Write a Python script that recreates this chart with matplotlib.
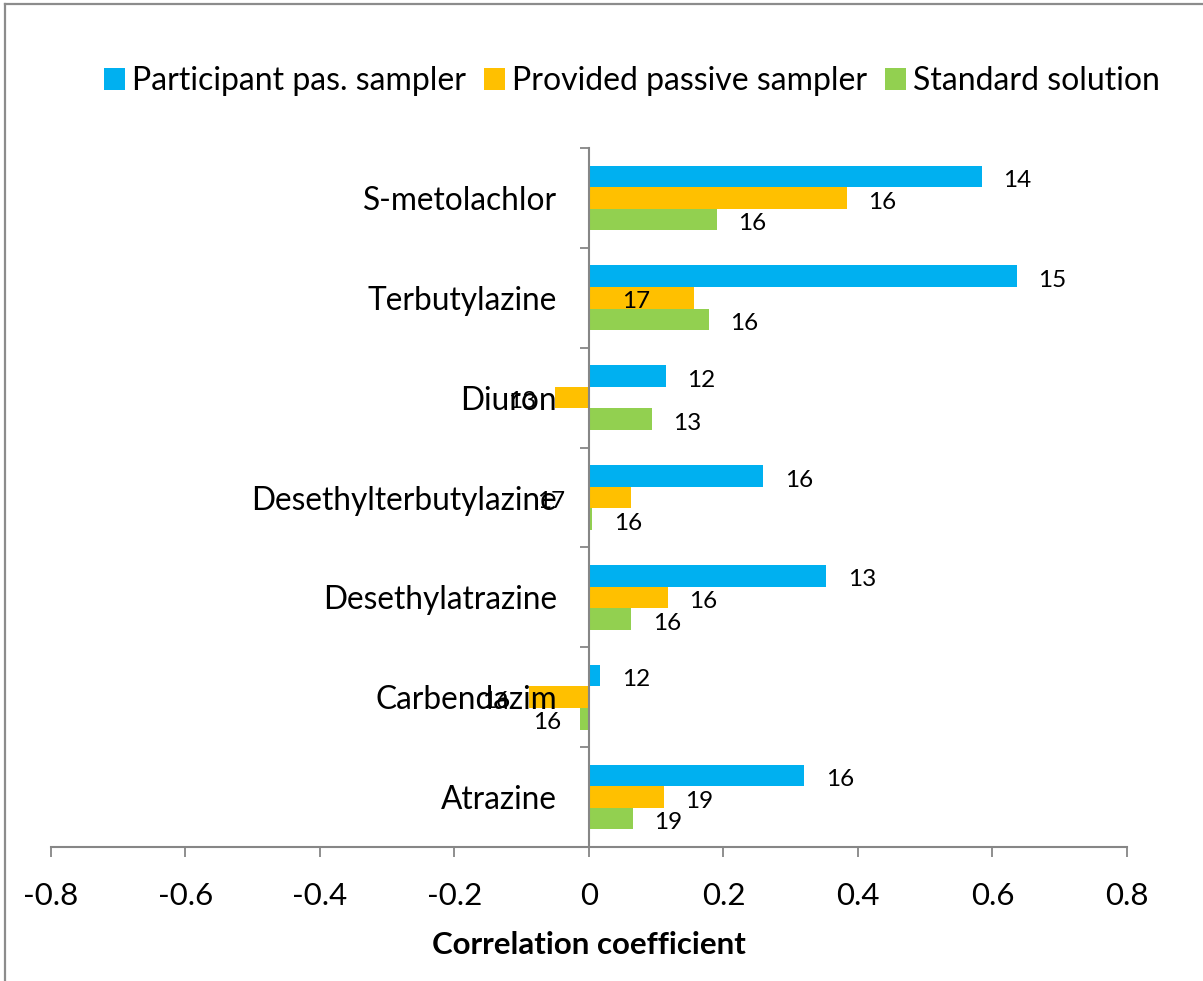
import matplotlib
matplotlib.use('Agg')
from matplotlib import pyplot as plt
from matplotlib.lines import Line2D
import numpy as np

plt.rcParams['font.family'] = ['Lato', 'DejaVu Sans']

# compounds, bottom to top
compounds = ['Atrazine', 'Carbendazim', 'Desethylatrazine', 'Desethylterbutylazine',
             'Diuron', 'Terbutylazine', 'S-metolachlor']
series = ['Participant pas. sampler', 'Provided passive sampler', 'Standard solution']

participant = [0.320, 0.017, 0.353, 0.259, 0.114, 0.636, 0.584]
provided = [0.111, -0.089, 0.117, 0.0625, -0.050, 0.156, 0.383]
standard = [0.065, -0.013, 0.0625, 0.005, 0.093, 0.178, 0.190]

# number of samples written beside each bar
n_participant = [16, 12, 13, 16, 12, 15, 14]
n_provided = [19, 16, 16, 17, 13, 17, 16]
n_standard = [19, 16, 16, 16, 13, 16, 16]

colors = ['#00B0F0', '#FFC000', '#92D050']
grey = '#868686'

fig = plt.figure(figsize=(12.03, 9.81), dpi=100)
ax = fig.add_axes([51 / 1203, 1 - 847 / 981, 1076 / 1203, 699 / 981])

# frame of the chart area (top and left edges)
fig.add_artist(Line2D([4.5 / 1203, 4.5 / 1203], [0, 1 - 4 / 981], transform=fig.transFigure,
                      color='#8c8c8c', lw=1.6))
fig.add_artist(Line2D([4.5 / 1203, 1], [1 - 4 / 981, 1 - 4 / 981], transform=fig.transFigure,
                      color='#8c8c8c', lw=1.6))

y = np.arange(len(compounds))
h = 0.216
values = [participant, provided, standard]
counts = [n_participant, n_provided, n_standard]
offsets = [h, 0, -h]

# a couple of labels sit away from their bars
label_shift = {(1, 5): -52, (1, 3): -68}

for s in range(3):
    ax.barh(y + offsets[s], values[s], height=h, color=colors[s], edgecolor='none',
            label=series[s])
    for i in range(len(compounds)):
        v = values[s][i]
        if (s, i) in label_shift:
            dx, ha = label_shift[(s, i)], 'left'
        elif v >= 0:
            dx, ha = 15.5, 'left'
        else:
            dx, ha = -13.5, 'right'
        ax.annotate(str(counts[s][i]), (v, y[i] + offsets[s]), xytext=(dx, -3),
                    textcoords='offset points', ha=ha, va='center', fontsize=17.5)

ax.set_xlim(-0.8, 0.8)
ax.set_ylim(-0.5, len(compounds) - 0.5)
ax.set_xticks(np.arange(-0.8, 0.81, 0.2))
ax.set_xticklabels(['-0.8', '-0.6', '-0.4', '-0.2', '0', '0.2', '0.4', '0.6', '0.8'])
ax.tick_params(axis='x', direction='out', length=7.5, width=1.3, color=grey,
               labelsize=22.5, pad=18)

ax.spines['left'].set_position(('data', 0))
ax.spines['top'].set_visible(False)
ax.spines['right'].set_visible(False)
for sp in ['left', 'bottom']:
    ax.spines[sp].set_color(grey)
    ax.spines[sp].set_linewidth(1.5)

ax.set_yticks(np.arange(-0.5, len(compounds), 1.0))
ax.set_yticklabels([])
ax.set_yticks(y, minor=True)
ax.set_yticklabels(compounds, minor=True)
ax.tick_params(axis='y', which='major', direction='out', length=6.5, width=1.3, color=grey)
ax.tick_params(axis='y', which='minor', length=0, labelsize=22.8, pad=23)

ax.set_xlabel('Correlation coefficient', fontsize=22.5, fontweight='bold', labelpad=15)

ax.legend(loc='center', bbox_to_anchor=(632 / 1203, 1 - 81 / 981),
          bbox_transform=fig.transFigure, ncol=3, frameon=False, fontsize=23,
          handlelength=0.66, handleheight=0.66, handletextpad=0.22, columnspacing=0.56)

fig.savefig('out.png', dpi=100)
